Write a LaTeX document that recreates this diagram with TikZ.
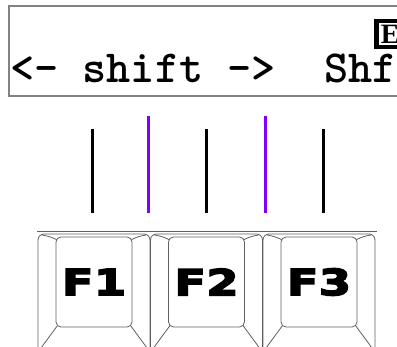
\documentclass[tikz,border=0pt]{standalone}
\usepackage{fontspec}
\usetikzlibrary{positioning, calc}
\newfontfamily\keyfont[FakeStretch=1.3,FakeBold=4]{DejaVu Sans}
\newfontfamily\iconfont{Liberation Serif}
\definecolor{keygray}{RGB}{95,95,95}
\definecolor{boxgray}{RGB}{130,130,130}
\definecolor{softpurple}{RGB}{128,0,255}

\begin{document}
\begin{tikzpicture}[
  x=1pt, y=-1pt,
  display/.style={draw=boxgray, line width=1.2pt},
  lcd/.style={font=\ttfamily\bfseries\fontsize{46}{46}\selectfont\addfontfeature{FakeBold=1.5}, inner sep=0, anchor=base west},
  icon/.style={draw=black, line width=4.5pt, fill=white, minimum width=34pt, minimum height=26pt, inner sep=0, anchor=north west, font=\iconfont\bfseries\fontsize{28}{28}\selectfont},
  tick/.style={line width=3pt, black},
  midtick/.style={line width=3pt, softpurple},
  keyface/.style={draw=keygray, line width=0.8pt, rounded corners=5pt, minimum width=76pt, minimum height=90pt, inner sep=0, font=\keyfont\bfseries\fontsize{36}{36}\selectfont},
  keyline/.style={draw=keygray, line width=0.8pt},
]
  \useasboundingbox (0,0) rectangle (397,347);
  \clip (0,0) rectangle (397,347);

  % display
  \draw[display] (9,6) rectangle (420,96);
  \node[icon] (mode) at (374,19) {\hspace*{-6pt}E};
  \node[lcd] (menu) at (10,83) {<-~shift~->~~Shf};

  % ticks
  \draw[tick] (92,129) -- (92,213);
  \draw[midtick] (148,116) -- (148,213);
  \draw[tick] (206.5,129) -- (206.5,213);
  \draw[midtick] (265,116) -- (265,213);
  \draw[tick] (323,129) -- (323,213);

  % keys
  \draw[keyline] (37,231) -- (377,231);
  \node[keyface] (f1) at (94,282) {F1};
  \node[keyface] (f2) at (206.5,282) {F2};
  \node[keyface] (f3) at (319,282) {F3};

  \foreach \k in {f1,f2,f3}{
    \draw[keyline, rounded corners=6pt] ($(\k.center)+(-56,72)$) -- ($(\k.center)+(-56,-48)$) -- ($(\k.center)+(56,-48)$) -- ($(\k.center)+(56,72)$) -- cycle;
    \draw[keyline] ($(\k.center)+(-52,-47)$) to[bend left=8] ($(\k.north west)+(1,3)$);
    \draw[keyline] ($(\k.center)+(52,-47)$) to[bend right=8] ($(\k.north east)+(-1,3)$);
    \draw[keyline] ($(\k.south west)+(2,-2)$) -- ($(\k.center)+(-53,66)$);
    \draw[keyline] ($(\k.south east)+(-2,-2)$) -- ($(\k.center)+(53,66)$);
  }
\end{tikzpicture}
\end{document}
